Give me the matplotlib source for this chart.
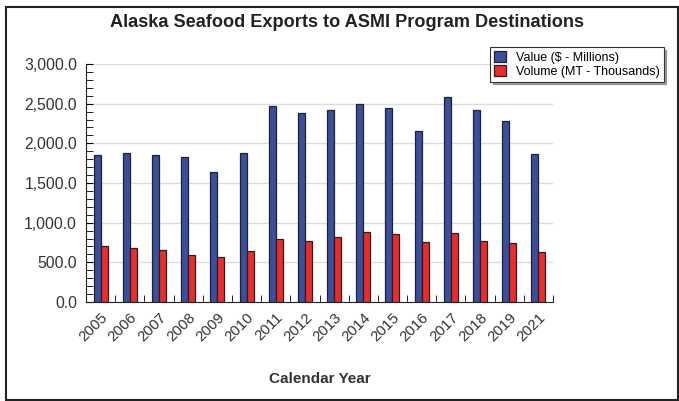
import matplotlib.pyplot as plt
from matplotlib.patches import Rectangle
from matplotlib.ticker import MultipleLocator, FuncFormatter
import numpy as np

years = ['2005', '2006', '2007', '2008', '2009', '2010', '2011', '2012',
         '2013', '2014', '2015', '2016', '2017', '2018', '2019', '2021']
value_musd = [1854, 1883, 1854, 1825, 1642, 1883, 2467, 2383,
              2425, 2500, 2442, 2158, 2583, 2425, 2283, 1871]
volume_kmt = [712, 683, 658, 596, 567, 642, 796, 771,
              825, 883, 854, 758, 871, 771, 742, 625]

plt.rcParams['font.family'] = ['Liberation Sans', 'DejaVu Sans']

fig = plt.figure(figsize=(6.79, 4.01), dpi=100)
ax = fig.add_axes([0.1267, 0.2469, 0.6877, 0.5935])

x = np.arange(len(years))
w = 0.24
ax.bar(x - w / 2, value_musd, w, color='#3a4fa0', edgecolor='#222222',
       linewidth=0.9, label='Value ($ - Millions)', zorder=3)
ax.bar(x + w / 2, volume_kmt, w, color='#ee2b2b', edgecolor='#222222',
       linewidth=0.9, label='Volume (MT - Thousands)', zorder=3)

ax.set_xlim(-0.5, len(years) - 0.5)
ax.set_ylim(0, 3000)

# y axis
ax.yaxis.set_major_locator(MultipleLocator(500))
ax.yaxis.set_minor_locator(MultipleLocator(100))
ax.yaxis.set_major_formatter(FuncFormatter(lambda v, p: f'{v:,.1f}'))
ax.tick_params(axis='y', which='both', direction='in', length=5,
               labelsize=11.3, labelcolor='#333333', pad=6.5)
ax.grid(axis='y', color='#dddddd', linewidth=1, zorder=0)

# x axis: labels at centres, ticks on category boundaries
ax.set_xticks(x)
ax.set_xticklabels(years, rotation=45, ha='right', rotation_mode='anchor',
                   fontsize=10.8, color='#333333')
ax.set_xticks(np.arange(len(years)) + 0.5, minor=True)
ax.tick_params(axis='x', which='major', length=0, pad=6)
ax.tick_params(axis='x', which='minor', direction='in', length=5)

for s in ['top', 'right']:
    ax.spines[s].set_visible(False)
for s in ['left', 'bottom']:
    ax.spines[s].set_color('#222222')

fig.text(0.471, 0.055, 'Calendar Year', ha='center', va='center',
         fontsize=11, fontweight='bold', color='#333333')
fig.text(0.511, 0.945, 'Alaska Seafood Exports to ASMI Program Destinations',
         ha='center', va='center', fontsize=13.1, fontweight='bold',
         color='#222222')

leg = ax.legend(loc='upper left', bbox_to_anchor=(0.865, 1.071),
                borderaxespad=0, fontsize=9, frameon=True, fancybox=False,
                shadow=True, handlelength=1.0, handleheight=1.0,
                borderpad=0.3, labelspacing=0.1, handletextpad=0.8,
                framealpha=1)
leg.get_frame().set_edgecolor('#333333')
leg.get_frame().set_linewidth(0.8)

# outer border
fig.patches.append(Rectangle((6 / 679, 1 / 401), 672 / 679, 393 / 401,
                             transform=fig.transFigure, fill=False,
                             edgecolor='#222222', linewidth=1.5))

fig.savefig('out.png', dpi=100)
